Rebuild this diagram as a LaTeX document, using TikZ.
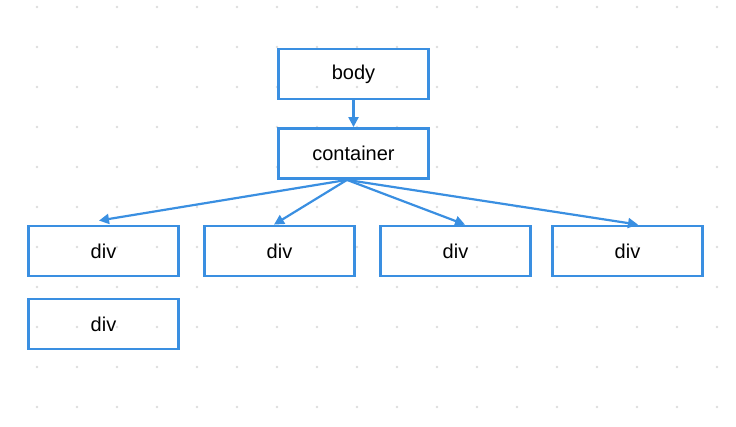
\documentclass[tikz,border=0pt]{standalone}
\usepackage{fontspec}
\setmainfont{Liberation Sans}
\usepackage{tikz}
\usetikzlibrary{arrows.meta}
\definecolor{treeblue}{RGB}{58,143,225}
\definecolor{dotgray}{RGB}{221,221,221}
\tikzset{
  tag/.style={draw=treeblue,line width=2.8pt,minimum width=149.5pt,minimum height=50pt,
    inner sep=0pt,font=\fontsize{20}{24}\selectfont},
  link/.style={draw=treeblue,line width=2.2pt,-{Triangle[length=10pt,width=10pt]}}
}

\begin{document}
\begin{tikzpicture}[x=1pt,y=-1pt]
\useasboundingbox (0,0) rectangle (736,427);
% dotted grid
\foreach \gx in {37,77,...,717}
  \foreach \gy in {7,47,...,407}
    \fill[dotgray] (\gx,\gy) circle (1.4pt);

\node[tag] (body) at (353.5,74) {body};
\node[tag] (cont) at (353.5,153.5) {container};
\node[tag] (div1) at (103.5,251) {div};
\node[tag] (div2) at (279.5,251) {div};
\node[tag] (div3) at (455.5,251) {div};
\node[tag] (div4) at (627.5,251) {div};
\node[tag] (div5) at (103.5,324) {div};

\path[every edge/.style=link]
  (body) edge (cont)
  ([xshift=-6.5pt]cont.south) edge ([xshift=-4.5pt,yshift=4pt]div1.north)
  ([xshift=-6.5pt]cont.south) edge ([xshift=-5.5pt]div2.north)
  ([xshift=-6.5pt]cont.south) edge ([xshift=9.5pt]div3.north)
  ([xshift=-6.5pt]cont.south) edge ([xshift=10.5pt]div4.north);
\end{tikzpicture}
\end{document}
